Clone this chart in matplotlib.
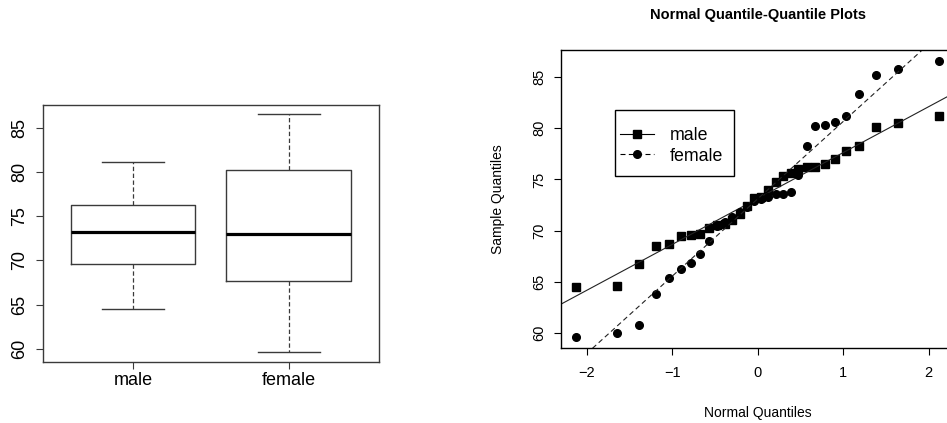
import numpy as np
import matplotlib
matplotlib.use("Agg")
import matplotlib.pyplot as plt
from matplotlib.lines import Line2D
from matplotlib.patches import Rectangle
from statistics import NormalDist

plt.rcParams['font.family'] = ['Liberation Sans', 'DejaVu Sans']

groups = ["male", "female"]
male = [64.5, 64.6, 66.7, 68.5, 68.65, 69.45, 69.55, 69.65, 70.3, 70.55,
        70.65, 71.0, 71.6, 72.4, 73.2, 73.3, 73.95, 74.7, 75.3, 75.6,
        76.05, 76.2, 76.25, 76.5, 77.0, 77.8, 78.3, 80.1, 80.55, 81.15]
female = [59.6, 60.0, 60.77, 63.85, 65.34, 66.25, 66.85, 67.7, 68.95, 70.45,
          70.8, 71.3, 71.8, 72.35, 72.86, 73.1, 73.33, 73.55, 73.6, 73.8,
          75.4, 78.3, 80.25, 80.3, 80.6, 81.15, 83.3, 85.15, 85.75, 86.55]
yticks = [60, 65, 70, 75, 80, 85]
xticks_qq = [-2, -1, 0, 1, 2]


def fivenum(v):
    # Tukey five-number summary, as R's boxplot uses
    v = np.sort(np.asarray(v))
    n = len(v)
    n4 = np.floor((n + 3) / 2) / 2
    d = np.array([1, n4, (n + 1) / 2, n + 1 - n4, n]) - 1
    return 0.5 * (v[np.floor(d).astype(int)] + v[np.ceil(d).astype(int)])


def qq(v):
    n = len(v)
    p = (np.arange(1, n + 1) - 0.5) / n
    return np.array([NormalDist().inv_cdf(x) for x in p]), np.sort(v)


fig = plt.figure(figsize=(9.47, 4.23), dpi=100)
edge = '#3a3a3a'

# ---- boxplot ----
ax1 = fig.add_axes([0.0451, 0.1449, 0.3551, 0.6069])
stats = []
for name, v in zip(groups, [male, female]):
    lo, q1, med, q3, hi = fivenum(v)
    stats.append(dict(label=name, whislo=lo, q1=q1, med=med, q3=q3, whishi=hi, fliers=[]))
ax1.bxp(stats, positions=[1, 2], widths=0.8, capwidths=0.4, showfliers=False,
        boxprops=dict(color=edge, lw=1),
        medianprops=dict(color='black', lw=2.3, solid_capstyle='butt'),
        whiskerprops=dict(color=edge, lw=0.9, linestyle=(0, (3.5, 2))),
        capprops=dict(color=edge, lw=1))
ax1.set_xlim(0.42, 2.58)
ax1.margins(y=0.04)
ax1.set_yticks(yticks)
ax1.tick_params(axis='both', length=4.75, width=0.8, color=edge, labelsize=13)
ax1.tick_params(axis='y', pad=6)
ax1.tick_params(axis='x', pad=2.5)
for lbl in ax1.get_yticklabels():
    lbl.set_rotation(90)
    lbl.set_va('center')
for s in ax1.spines.values():
    s.set_color(edge)
    s.set_linewidth(1)

# ---- normal QQ plots ----
ax2 = fig.add_axes([0.5927, 0.1766, 0.4147, 0.7052])
series = [(male, 's', '-', 6), (female, 'o', (0, (4.5, 3)), 5.5)]
handles = []
for (v, mk, ls, ms), name in zip(series, groups):
    x, y = qq(v)
    ax2.plot(x, y, linestyle='none', marker=mk, ms=ms, color='black', mec='black')
    ax2.axline((0, np.mean(v)), slope=np.std(v, ddof=1), color='#222222', lw=0.8, ls=ls)
    handles.append(Line2D([], [], color='black', lw=0.8, ls=ls, marker=mk, ms=ms))
ax2.margins(0.04)
ax2.set_xticks(xticks_qq)
ax2.set_yticks(yticks)
ax2.tick_params(axis='both', length=5, width=0.8, labelsize=10.5)
ax2.tick_params(axis='y', pad=5.5)
ax2.tick_params(axis='x', pad=8)
for lbl in ax2.get_yticklabels():
    lbl.set_rotation(90)
    lbl.set_va('center')
for s in ax2.spines.values():
    s.set_linewidth(1)

ax2.text(0.5, 1.116, "Normal Quantile-Quantile Plots", transform=ax2.transAxes,
         ha='center', va='center', fontsize=10.5, fontweight='bold')
ax2.set_xlabel("Normal Quantiles", fontsize=10)
ax2.xaxis.set_label_coords(0.5, -0.193)
ax2.set_ylabel("Sample Quantiles", fontsize=10)
ax2.yaxis.set_label_coords(-0.143, 0.5)

# R-style legend: entries without frame, box drawn separately
ax2.legend(handles, groups, loc='upper left', bbox_to_anchor=(0.1164, 0.7855),
           borderaxespad=0, frameon=False, fontsize=12.8,
           handlelength=1.9, handletextpad=0.9, labelspacing=0.22,
           borderpad=0.72, numpoints=1)
ax2.add_patch(Rectangle((0.1375, 0.5776), 0.303, 0.2213, transform=ax2.transAxes,
                        fill=False, edgecolor='black', lw=1, zorder=5))

fig.savefig("out.png", dpi=100)
